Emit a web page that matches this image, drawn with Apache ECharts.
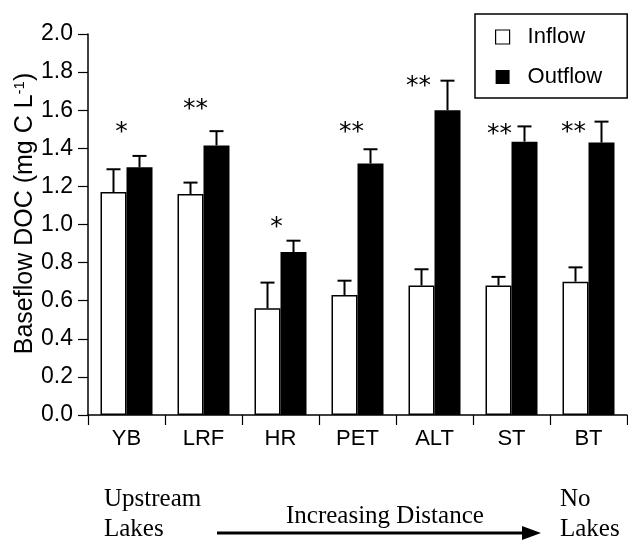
<!DOCTYPE html>
<html>
<head>
<meta charset="utf-8">
<script src="https://cdn.jsdelivr.net/npm/echarts@6/dist/echarts.min.js"></script>
<style>
  html, body { margin: 0; padding: 0; background: #fff; }
  #chart { width: 628px; height: 540px; }
</style>
</head>
<body>
<div id="chart"></div>
<script>
// site names, upstream lakes -> no lakes
const categories = ['YB', 'LRF', 'HR', 'PET', 'ALT', 'ST', 'BT']
// baseflow DOC, mg C / L
const inflow = [1.17, 1.16, 0.56, 0.63, 0.68, 0.68, 0.70]
const inflowErr = [0.12, 0.06, 0.135, 0.075, 0.085, 0.045, 0.075]
const outflow = [1.30, 1.415, 0.855, 1.32, 1.60, 1.435, 1.43]
const outflowErr = [0.06, 0.075, 0.06, 0.075, 0.155, 0.08, 0.11]
// significance marks and the value they sit at
const sigMarks = ['*', '**', '*', '**', '**', '**', '**']
const sigY = [1.51, 1.63, 1.01, 1.51, 1.75, 1.50, 1.51]

// layout bits (px)
const sigDx = [-5, -8, -4, -6, -16, -12, -15]
const barW = 26

const chart = echarts.init(document.getElementById('chart'))

const errData = inflow.map((v, i) => [i, v, inflowErr[i], -1])
  .concat(outflow.map((v, i) => [i, v, outflowErr[i], 1]))

const renderErr = (params, api) => {
  const i = api.value(0)
  const v = api.value(1)
  const e = api.value(2)
  const side = api.value(3)
  const base = api.coord([i, v])
  const top = api.coord([i, v + e])
  const x = base[0] + side * barW / 2
  const st = { stroke: '#000', lineWidth: 2 }
  return {
    type: 'group',
    children: [
      { type: 'line', shape: { x1: x, y1: base[1], x2: x, y2: top[1] }, style: st },
      { type: 'line', shape: { x1: x - 7, y1: top[1], x2: x + 7, y2: top[1] }, style: st }
    ]
  }
}

const renderSig = (params, api) => {
  const i = api.value(0)
  const p = api.coord([i, api.value(1)])
  return {
    type: 'text',
    x: p[0] + sigDx[i],
    y: p[1] + 5,
    style: {
      text: sigMarks[i],
      font: '25px "DejaVu Sans"',
      fill: '#000',
      align: 'center',
      verticalAlign: 'middle'
    }
  }
}

const option = {
  animation: false,
  grid: { left: 88, right: 1, top: 34, bottom: 125, outerBoundsMode: 'none' },
  legend: {
    orient: 'vertical',
    left: 475,
    top: 14,
    padding: [12, 25, 10, 20],
    itemGap: 18,
    itemWidth: 14,
    itemHeight: 14,
    borderColor: '#000',
    borderWidth: 1.5,
    borderRadius: 0,
    textStyle: { fontFamily: 'Liberation Sans', fontSize: 22, color: '#000', lineHeight: 22, padding: [0, 0, 0, 13] },
    data: [
      { name: 'Inflow', icon: 'rect', itemStyle: { color: '#fff', borderColor: '#000', borderWidth: 1.2 } },
      { name: 'Outflow', icon: 'rect', itemStyle: { color: '#000' } }
    ]
  },
  xAxis: {
    type: 'category',
    data: categories,
    axisLine: { lineStyle: { color: '#000', width: 1.5 } },
    axisTick: { show: true, length: 10, lineStyle: { color: '#000', width: 1.2 } },
    axisLabel: { color: '#000', fontFamily: 'Liberation Sans', fontSize: 22, margin: 13 }
  },
  yAxis: {
    type: 'value',
    min: 0,
    max: 2,
    interval: 0.2,
    name: 'Baseflow DOC (mg C L{sup|-1})',
    nameLocation: 'middle',
    nameGap: 50,
    nameMoveOverlap: false,
    nameTextStyle: {
      color: '#000',
      fontFamily: 'Liberation Sans',
      fontSize: 25,
      padding: [0, 0, 0, 22],
      rich: { sup: { fontFamily: 'Liberation Sans', fontSize: 15, verticalAlign: 'top', padding: [0, 0, 11, 0], color: '#000' } }
    },
    axisLine: { show: true, lineStyle: { color: '#000', width: 1.5 } },
    axisTick: { show: true, length: 10, lineStyle: { color: '#000', width: 1.2 } },
    splitLine: { show: false },
    axisLabel: {
      color: '#000',
      fontFamily: 'Liberation Sans',
      fontSize: 23,
      margin: 15,
      formatter: (v) => v.toFixed(1)
    }
  },
  series: [
    {
      name: 'Inflow',
      type: 'bar',
      data: inflow,
      barWidth: barW,
      barGap: '0%',
      itemStyle: { color: '#fff', borderColor: '#000', borderWidth: 1.5 }
    },
    {
      name: 'Outflow',
      type: 'bar',
      data: outflow,
      barWidth: barW,
      itemStyle: { color: '#000' }
    },
    {
      type: 'custom',
      renderItem: renderErr,
      data: errData,
      z: 5,
      silent: true
    },
    {
      type: 'custom',
      renderItem: renderSig,
      data: sigY.map((v, i) => [i, v]),
      z: 6,
      silent: true
    }
  ],
  graphic: [
    { type: 'text', left: 104, top: 484, style: { text: 'Upstream\nLakes', font: '25px "Liberation Serif"', fill: '#000', lineHeight: 30 } },
    { type: 'line', shape: { x1: 217, y1: 533, x2: 526, y2: 533 }, style: { stroke: '#000', lineWidth: 3 } },
    { type: 'polygon', shape: { points: [[522, 526], [541, 533], [522, 540]] }, style: { fill: '#000' } },
    { type: 'text', left: 286, top: 504, style: { text: 'Increasing Distance', font: '25px "Liberation Serif"', fill: '#000' } },
    { type: 'text', left: 560, top: 484, style: { text: 'No\nLakes', font: '25px "Liberation Serif"', fill: '#000', lineHeight: 30 } }
  ]
}

chart.setOption(option)
</script>
</body>
</html>
